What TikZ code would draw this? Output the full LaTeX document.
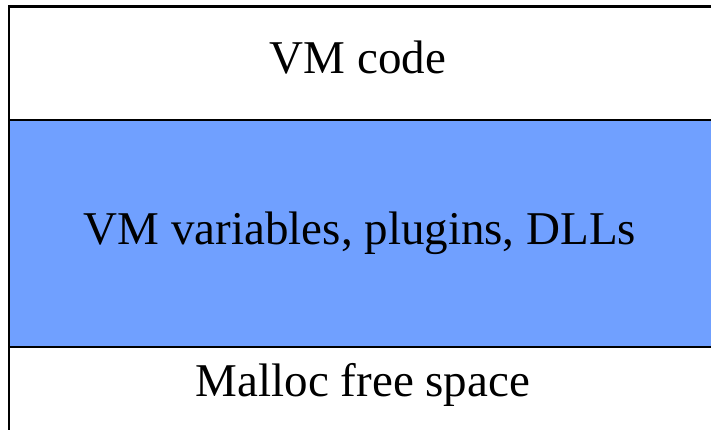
\documentclass[tikz,border=0pt]{standalone}
\usepackage{fontspec}
\setmainfont{Liberation Serif}
\definecolor{vmblue}{RGB}{112,160,255}
\begin{document}
\begin{tikzpicture}[x=1pt,y=1pt,
  rule/.style={line width=2.5pt, black},
  lbl/.style={font=\fontsize{47}{50}\selectfont, inner sep=0pt, anchor=base}]
\useasboundingbox (0,0) rectangle (711,430);
\fill[vmblue] (9,83) rectangle (711,310);
\draw[rule] (9,0) -- (9,423.5) -- (711,423.5);
\draw[rule] (9,310) -- (711,310);
\draw[rule] (9,83) -- (711,83);
\node[lbl] (code) at (358,356.5) {VM code};
\node[lbl] (vars) at (360,185) {VM variables, plugins, DLLs};
\node[lbl] (malloc) at (363,33) {Malloc free space};
\end{tikzpicture}
\end{document}
